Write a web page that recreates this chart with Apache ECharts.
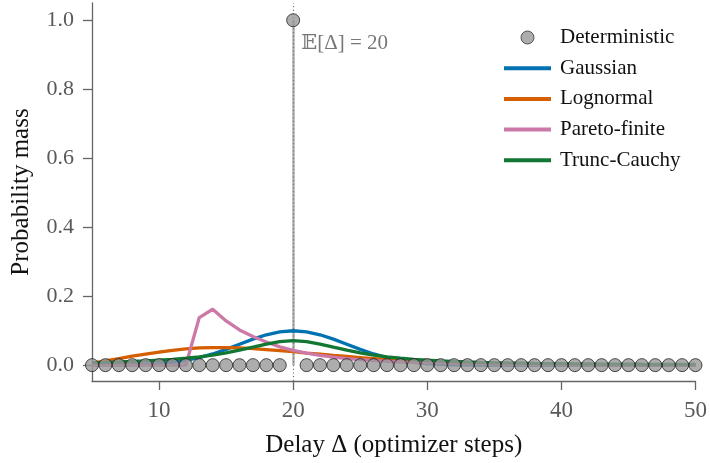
<!DOCTYPE html>
<html>
<head>
<meta charset="utf-8">
<script src="https://cdn.jsdelivr.net/npm/echarts@6/dist/echarts.min.js"></script>
<style>html,body{margin:0;padding:0;background:#fff}#c{width:710px;height:463px}</style>
</head>
<body>
<div id="c"></div>
<script>
const delays = [5,6,7,8,9,10,11,12,13,14,15,16,17,18,19,20,21,22,23,24,25,26,27,28,29,30,31,32,33,34,35,36,37,38,39,40,41,42,43,44,45,46,47,48,49,50];
const deterministic = [0,0,0,0,0,0,0,0,0,0,0,0,0,0,0,1,0,0,0,0,0,0,0,0,0,0,0,0,0,0,0,0,0,0,0,0,0,0,0,0,0,0,0,0,0,0];
const gaussian = [0.0001,0.0002,0.0005,0.0011,0.0023,0.0044,0.0079,0.0135,0.0216,0.0324,0.0456,0.0605,0.0753,0.0880,0.0966,0.0997,0.0966,0.0880,0.0753,0.0605,0.0456,0.0324,0.0216,0.0135,0.0079,0.0044,0.0023,0.0011,0.0005,0.0002,0.0001,0,0,0,0,0,0,0,0,0,0,0,0,0,0,0];
const lognormal = [0.006,0.012,0.019,0.026,0.032,0.038,0.043,0.047,0.050,0.051,0.051,0.050,0.048,0.045,0.042,0.039,0.035,0.032,0.028,0.025,0.022,0.019,0.016,0.014,0.012,0.010,0.008,0.007,0.006,0.005,0.004,0.0035,0.003,0.0025,0.002,0.0018,0.0015,0.0013,0.0011,0.001,0.0009,0.0008,0.0007,0.0006,0.0005,0.0005];
const paretoFinite = [0,0,0,0,0,0,0,0,0.138,0.162,0.128,0.102,0.083,0.067,0.053,0.043,0.035,0.028,0.023,0.019,0.016,0.013,0.011,0.009,0.008,0.007,0.006,0.005,0.0045,0.004,0.0035,0.003,0.0028,0.0025,0.0023,0.0021,0.0019,0.0017,0.0016,0.0015,0.0014,0.0013,0.0012,0.0011,0.001,0.001];
const truncCauchy = [0.0071,0.0080,0.0091,0.0105,0.0121,0.0142,0.0168,0.0200,0.0240,0.0291,0.0355,0.0433,0.0522,0.0612,0.0683,0.0710,0.0683,0.0612,0.0522,0.0433,0.0355,0.0291,0.0240,0.0200,0.0168,0.0142,0.0121,0.0105,0.0091,0.0080,0.0071,0.0063,0.0057,0.0051,0.0046,0.0042,0.0038,0.0035,0.0032,0.0030,0.0027,0.0025,0.0024,0.0022,0.0020,0.0019];
const xTicks = [10,20,30,40,50];
const yTicks = [0,0.2,0.4,0.6,0.8,1.0];
const meanDelay = 20;
const names = ['Deterministic','Gaussian','Lognormal','Pareto-finite','Trunc-Cauchy'];
const colors = ['#999999','#0072B2','#D55E00','#CC79A7','#117733'];

const serif = '"Liberation Serif","DejaVu Serif",serif';
const pairs = arr => delays.map((d,i)=>[d,arr[i]]);
const lineIcon = 'path://M0,0L0.01,0L0,0.01Z M0,4.5L47,4.5L47,8.5L0,8.5Z M47,13L46.99,13L47,12.99Z';
const lineSeries = (name, arr, color) => ({
  name, type:'line', data: pairs(arr), symbol:'none', showSymbol:false,
  lineStyle:{color, width:3.3}, itemStyle:{color}, z:2, clip:true
});

const chart = echarts.init(document.getElementById('c'), null, {renderer:'canvas'});
chart.setOption({
  animation:false,
  grid:{left:92, right:12, top:3, bottom:80},
  legend:{
    orient:'vertical', left:499, top:22, itemWidth:47, itemHeight:13, itemGap:9.7,
    data:names.map((n,i)=> i===0
      ? {name:n, icon:'circle', itemStyle:{color:colors[0], borderColor:'#333', borderWidth:1}}
      : {name:n, icon:lineIcon, itemStyle:{color:colors[i], borderWidth:0}}),
    textStyle:{fontFamily:serif, fontSize:21, color:'#111', lineHeight:21, padding:[0,0,0,4]}
  },
  xAxis:{
    type:'value', min:5, max:50,
    name:'Delay Δ (optimizer steps)', nameLocation:'middle', nameGap:52,
    nameTextStyle:{fontFamily:serif, fontSize:25, color:'#111'},
    axisLine:{show:true, onZero:false, lineStyle:{color:'#666', width:1.3}},
    axisTick:{show:true, length:9, lineStyle:{color:'#666', width:1.3}, customValues:xTicks},
    axisLabel:{fontFamily:serif, fontSize:23, color:'#595959', margin:18, customValues:xTicks},
    splitLine:{show:false}
  },
  yAxis:{
    type:'value', min:-0.046, max:1.05,
    name:'Probability mass', nameLocation:'middle', nameGap:58,
    nameTextStyle:{fontFamily:serif, fontSize:25, color:'#111'},
    axisLine:{show:true, onZero:false, lineStyle:{color:'#666', width:1.3}},
    axisTick:{show:true, length:9, lineStyle:{color:'#666', width:1.3}, customValues:yTicks},
    axisLabel:{fontFamily:serif, fontSize:22, color:'#595959', margin:18, customValues:yTicks,
      formatter: v => v.toFixed(1)},
    splitLine:{show:false}
  },
  series:[
    lineSeries(names[1], gaussian, colors[1]),
    lineSeries(names[2], lognormal, colors[2]),
    lineSeries(names[3], paretoFinite, colors[3]),
    lineSeries(names[4], truncCauchy, colors[4]),
    {
      name:names[0], type:'scatter', data:pairs(deterministic), symbol:'circle', symbolSize:13,
      itemStyle:{color:colors[0], borderColor:'#222', borderWidth:1}, z:5,
      markLine:{
        silent:true, symbol:'none', label:{show:false},
        data:[
          [{coord:[meanDelay,0], lineStyle:{color:'#b0b0b0', width:2.5, type:'solid'}},
           {coord:[meanDelay,1]}],
          {xAxis:meanDelay, lineStyle:{color:'#777', width:1.2, type:[1.2,2.5]}}
        ],
        z:1
      }
    }
  ]
});
const p = chart.convertToPixel({gridIndex:0}, [meanDelay, 1]);
chart.setOption({
  graphic:[{
    type:'text', x:p[0]+8, y:p[1]+23,
    style:{text:'𝔼[Δ] = 20', fontFamily:serif, fontSize:21, fill:'#777', textVerticalAlign:'middle', textAlign:'left'}
  }]
});
</script>
</body>
</html>
